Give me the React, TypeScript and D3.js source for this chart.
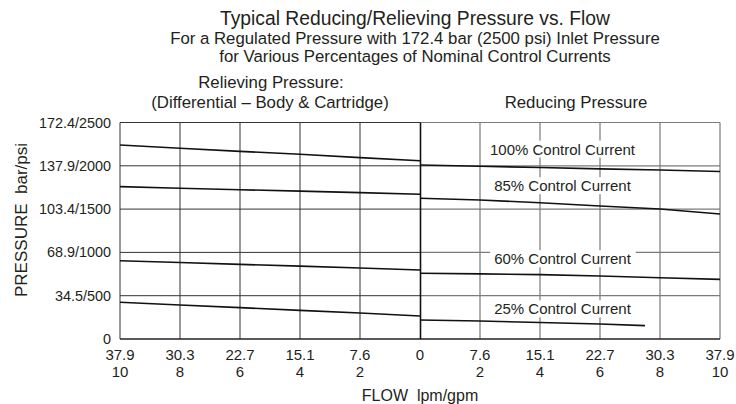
import * as React from "react";
import * as d3 from "d3";

// flow in gpm, pressure in psi
const relievingFlow = [10, 8, 6, 4, 2, 0];
const relievingA = [2240, 2202, 2167, 2133, 2094, 2059];
const relievingB = [1759, 1740, 1724, 1707, 1690, 1671];
const relievingC = [904, 883, 862, 841, 820, 797];
const relievingD = [424, 393, 362, 331, 300, 266];

const reducingFlow = [0, 2, 4, 6, 8, 10];
const reducing100 = [2009, 1995, 1980, 1965, 1951, 1935];
const reducing85 = [1625, 1605, 1574, 1536, 1501, 1443];
const reducing60 = [759, 752, 743, 727, 707, 689];
const reducing25Flow = [0, 2, 4, 6, 7.5];
const reducing25 = [219, 208, 190, 173, 154];

const curveLabels = ["100% Control Current", "85% Control Current", "60% Control Current", "25% Control Current"];
const labelPsi = [2190, 1767, 924, 346];

const yTicks = [0, 500, 1000, 1500, 2000, 2500];
const yTickLabels = ["0", "34.5/500", "68.9/1000", "103.4/1500", "137.9/2000", "172.4/2500"];
const xTicks = [-10, -8, -6, -4, -2, 0, 2, 4, 6, 8, 10];
const lpmLabels = ["37.9", "30.3", "22.7", "15.1", "7.6", "0", "7.6", "15.1", "22.7", "30.3", "37.9"];
const gpmLabels = ["10", "8", "6", "4", "2", "", "2", "4", "6", "8", "10"];

const W = 736, H = 404;
const FONT = "'Liberation Sans', Arial, Helvetica, sans-serif";
const INK = "#231f20";

export default function App() {
    const ref = React.useRef<SVGSVGElement>(null);

    React.useEffect(() => {
        const svg = d3.select(ref.current);
        svg.selectAll("*").remove();
        svg.attr("font-family", FONT).attr("fill", INK);

        const x = d3.scaleLinear().domain([-10, 10]).range([120, 720]);
        const y = d3.scaleLinear().domain([0, 2500]).range([339, 122.5]);
        const line = d3.line<[number, number]>().x(d => x(d[0])).y(d => y(d[1]));

        // titles
        const titles = [
            { t: "Typical Reducing/Relieving Pressure vs. Flow", y: 25, s: 19.3 },
            { t: "For a Regulated Pressure with 172.4 bar (2500 psi) Inlet Pressure", y: 44, s: 16.8 },
            { t: "for Various Percentages of Nominal Control Currents", y: 62, s: 16.8 },
        ];
        svg.selectAll("text.title").data(titles).enter().append("text")
            .attr("class", "title")
            .attr("x", 415).attr("y", d => d.y)
            .attr("text-anchor", "middle").attr("font-size", d => d.s)
            .text(d => d.t);

        svg.append("text").attr("x", 271).attr("y", 88).attr("text-anchor", "middle")
            .attr("font-size", 16.8).text("Relieving Pressure:");
        svg.append("text").attr("x", 270).attr("y", 108).attr("text-anchor", "middle")
            .attr("font-size", 16.8).text("(Differential \u2013 Body & Cartridge)");
        svg.append("text").attr("x", 576).attr("y", 108).attr("text-anchor", "middle")
            .attr("font-size", 16.8).text("Reducing Pressure");

        // grid - left half dark, right half gray
        const g = svg.append("g");
        const leftX = xTicks.filter(v => v < 0);
        const rightX = xTicks.filter(v => v > 0);
        g.selectAll("line.vl").data(leftX).enter().append("line")
            .attr("x1", d => x(d)).attr("x2", d => x(d))
            .attr("y1", y(0)).attr("y2", y(2500))
            .attr("stroke", "#333").attr("stroke-width", 1);
        g.selectAll("line.hl").data(yTicks.slice(1)).enter().append("line")
            .attr("x1", x(-10)).attr("x2", x(0))
            .attr("y1", d => y(d)).attr("y2", d => y(d))
            .attr("stroke", "#333").attr("stroke-width", 1);
        g.selectAll("line.vr").data(rightX).enter().append("line")
            .attr("x1", d => x(d)).attr("x2", d => x(d))
            .attr("y1", y(0)).attr("y2", y(2500))
            .attr("stroke", "#7a7a7a").attr("stroke-width", 1.2);
        g.selectAll("line.hr").data(yTicks.slice(1)).enter().append("line")
            .attr("x1", x(0)).attr("x2", x(10))
            .attr("y1", d => y(d)).attr("y2", d => y(d))
            .attr("stroke", "#7a7a7a").attr("stroke-width", 1.2);

        // bottom axis and centre divider
        g.append("line").attr("x1", x(-10)).attr("x2", x(10)).attr("y1", y(0)).attr("y2", y(0))
            .attr("stroke", "#222").attr("stroke-width", 1.3);
        g.append("line").attr("x1", x(0) + 0.5).attr("x2", x(0) + 0.5).attr("y1", y(0)).attr("y2", y(2500))
            .attr("stroke", "#111").attr("stroke-width", 1.6);

        // curve labels with white backing
        const lab = svg.append("g");
        curveLabels.forEach((t, i) => {
            const tx = lab.append("text")
                .attr("x", x(4.75)).attr("y", y(labelPsi[i]))
                .attr("dy", "0.35em").attr("text-anchor", "middle")
                .attr("font-size", 15).text(t);
            const bb = (tx.node() as SVGTextElement).getBBox();
            lab.insert("rect", "text")
                .attr("x", bb.x - 4).attr("y", bb.y)
                .attr("width", bb.width + 8).attr("height", bb.height)
                .attr("fill", "#fff");
        });

        // curves
        const series: [number[], number[]][] = [
            [relievingFlow.map(v => -v), relievingA],
            [relievingFlow.map(v => -v), relievingB],
            [relievingFlow.map(v => -v), relievingC],
            [relievingFlow.map(v => -v), relievingD],
            [reducingFlow, reducing100],
            [reducingFlow, reducing85],
            [reducingFlow, reducing60],
            [reducing25Flow, reducing25],
        ];
        svg.append("g").selectAll("path").data(series).enter().append("path")
            .attr("d", d => line(d[0].map((f, i) => [f, d[1][i]] as [number, number])))
            .attr("fill", "none").attr("stroke", "#111").attr("stroke-width", 1.6);

        // y tick labels
        svg.append("g").selectAll("text").data(yTicks).enter().append("text")
            .attr("x", 111).attr("y", d => y(d)).attr("dy", "0.35em")
            .attr("text-anchor", "end").attr("font-size", 14.4)
            .text((d, i) => yTickLabels[i]);

        // x tick labels
        const xt = svg.append("g");
        xt.selectAll("text.lpm").data(xTicks).enter().append("text")
            .attr("x", d => x(d)).attr("y", 360).attr("text-anchor", "middle")
            .attr("font-size", 15).text((d, i) => lpmLabels[i]);
        xt.selectAll("text.gpm").data(xTicks).enter().append("text")
            .attr("x", d => x(d)).attr("y", 377).attr("text-anchor", "middle")
            .attr("font-size", 15).text((d, i) => gpmLabels[i]);

        svg.append("text").attr("x", 420).attr("y", 401).attr("text-anchor", "middle")
            .attr("font-size", 16).attr("xml:space", "preserve").text("FLOW  lpm/gpm");
        svg.append("text").attr("transform", "translate(27,220) rotate(-90)")
            .attr("text-anchor", "middle").attr("font-size", 17).attr("xml:space", "preserve")
            .text("PRESSURE  bar/psi");
    }, []);

    return (
        <svg ref={ref} width={W} height={H}
            style={{ position: "absolute", left: 0, top: 0, background: "#fff" }} />
    );
}
